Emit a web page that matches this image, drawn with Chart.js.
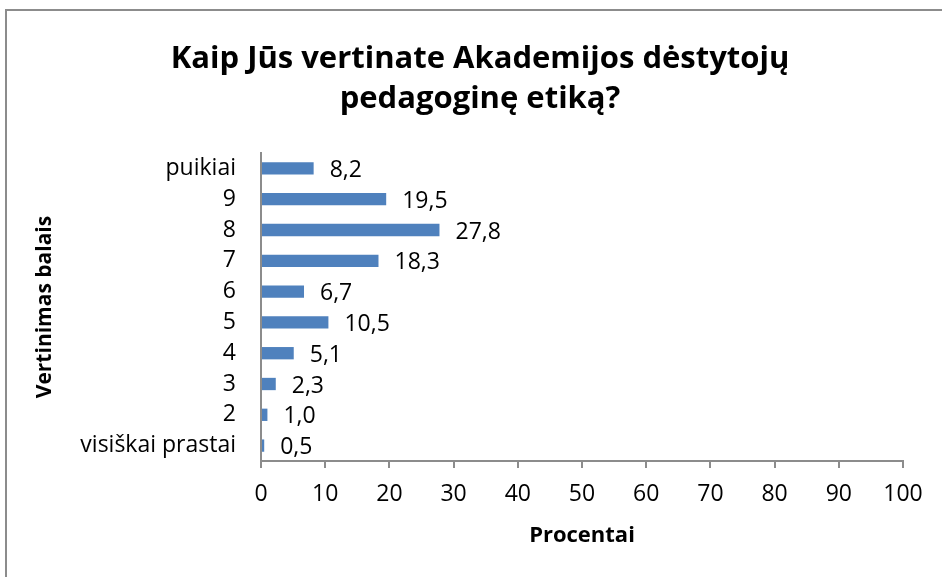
<!DOCTYPE html>
<html lang="lt">
<head>
<meta charset="UTF-8">
<title>Kaip Jūs vertinate Akademijos dėstytojų pedagoginę etiką?</title>
<script src="https://cdn.jsdelivr.net/npm/chart.js@4.4.1/dist/chart.umd.min.js"></script>
<style>
  html, body { margin: 0; padding: 0; background: #fff; overflow: hidden; }
  canvas { display: block; }
</style>
</head>
<body>
<canvas id="chart" width="942" height="577"></canvas>
<script>
// data (top to bottom)
const categories = ['puikiai', '9', '8', '7', '6', '5', '4', '3', '2', 'visiškai prastai'];
const percentValues = [8.2, 19.5, 27.8, 18.3, 6.7, 10.5, 5.1, 2.3, 1.0, 0.5];
const xTicks = [0, 10, 20, 30, 40, 50, 60, 70, 80, 90, 100];
const titleLines = ['Kaip Jūs vertinate Akademijos dėstytojų', 'pedagoginę etiką?'];

const fontFamily = '"Open Sans", Lato, sans-serif';
const axisGray = '#8c8c8c';

// white background, outer frame and the two-line title (Excel puts it off-centre)
const framePlugin = {
    id: 'frame',
    beforeDraw(chart) {
        const ctx = chart.ctx;
        ctx.save();
        ctx.fillStyle = '#fff';
        ctx.fillRect(0, 0, chart.width, chart.height);
        ctx.strokeStyle = axisGray;
        ctx.lineWidth = 2;
        ctx.strokeRect(6, 10, chart.width + 20, chart.height + 20);
        ctx.fillStyle = '#000';
        ctx.font = 'bold 31px ' + fontFamily;
        ctx.textAlign = 'center';
        ctx.textBaseline = 'alphabetic';
        titleLines.forEach((line, i) => ctx.fillText(line, 480, 68 + i * 40));
        ctx.restore();
    }
};

// value labels right of each bar, with decimal comma
const valueLabels = {
    id: 'valueLabels',
    afterDatasetsDraw(chart) {
        const ctx = chart.ctx;
        const meta = chart.getDatasetMeta(0);
        ctx.save();
        ctx.font = '23px ' + fontFamily;
        ctx.fillStyle = '#000';
        ctx.textAlign = 'left';
        ctx.textBaseline = 'middle';
        meta.data.forEach((bar, i) => {
            const txt = percentValues[i].toFixed(1).replace('.', ',');
            ctx.fillText(txt, bar.x + 16, bar.y + 2);
        });
        ctx.restore();
    }
};

new Chart(document.getElementById('chart'), {
    type: 'bar',
    data: {
        labels: categories,
        datasets: [{
            data: percentValues,
            backgroundColor: '#4F81BD',
            barPercentage: 0.4,
            categoryPercentage: 1
        }]
    },
    options: {
        indexAxis: 'y',
        responsive: false,
        animation: false,
        layout: { padding: { left: 0, right: 39, top: 153, bottom: 0 } },
        plugins: {
            legend: { display: false },
            tooltip: { enabled: false },
            title: { display: false }
        },
        scales: {
            x: {
                min: 0,
                max: 100,
                afterBuildTicks(scale) {
                    scale.ticks = xTicks.map(v => ({ value: v }));
                },
                afterFit(scale) { scale.height = 116; },
                grid: { drawOnChartArea: false, drawTicks: true, tickLength: 7, color: axisGray, lineWidth: 2 },
                border: { color: axisGray, width: 2 },
                ticks: { color: '#000', padding: 13, maxRotation: 0, font: { family: fontFamily, size: 23 } },
                title: {
                    display: true,
                    text: 'Procentai',
                    color: '#000',
                    font: { family: fontFamily, size: 22, weight: 'bold', lineHeight: 1.2 },
                    padding: { top: 0, bottom: 28 }
                }
            },
            y: {
                afterFit(scale) { scale.width = 261; },
                grid: { display: false, drawTicks: false },
                border: { color: axisGray, width: 2 },
                ticks: { color: '#000', padding: 25, autoSkip: false, font: { family: fontFamily, size: 23 } },
                title: {
                    display: true,
                    text: 'Vertinimas balais',
                    color: '#000',
                    font: { family: fontFamily, size: 21, weight: 'bold', lineHeight: 1.2 },
                    padding: { top: 32, bottom: 0 }
                }
            }
        }
    },
    plugins: [framePlugin, valueLabels]
});
</script>
</body>
</html>
